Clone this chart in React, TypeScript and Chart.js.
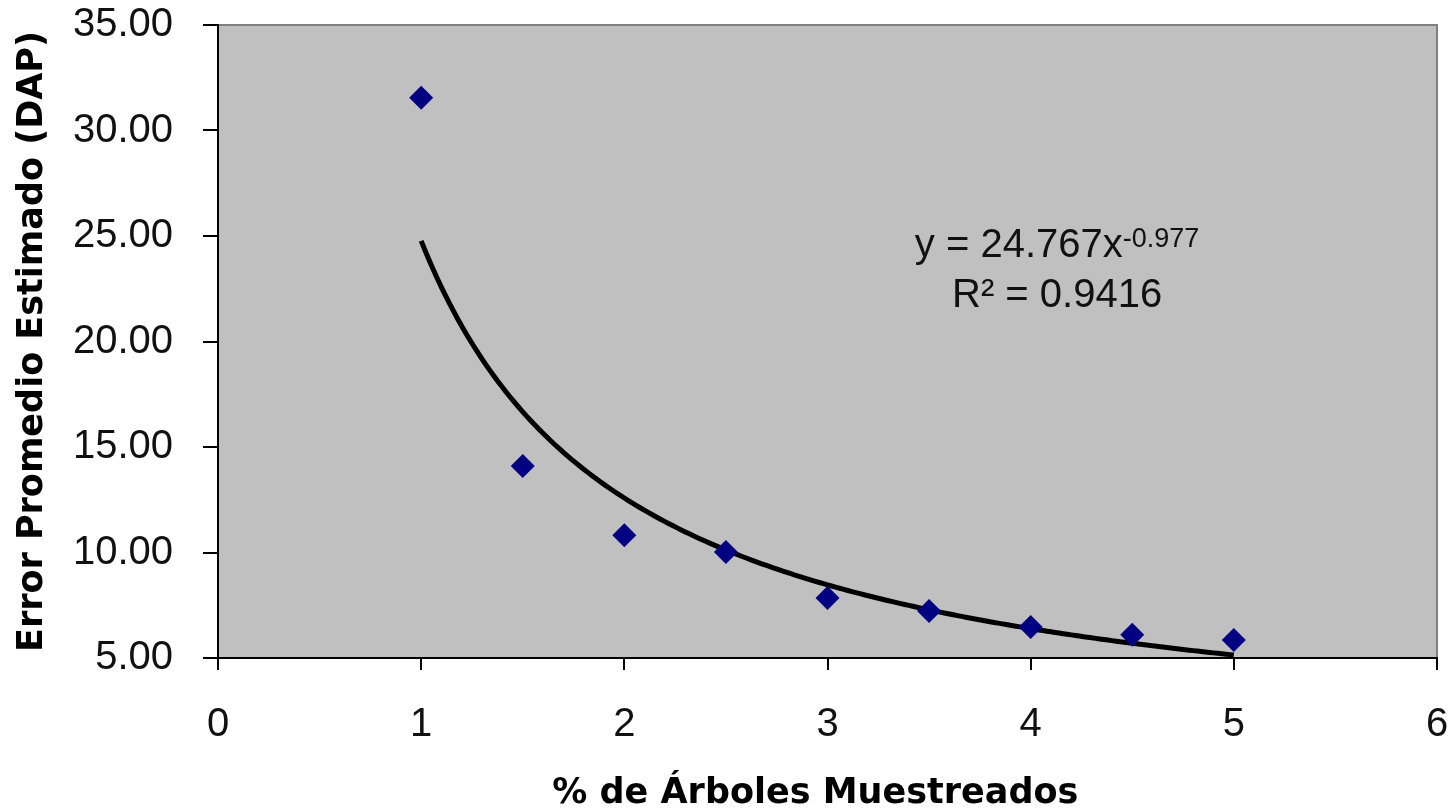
import React, { useEffect, useRef } from "react";
import { Chart, registerables } from "chart.js";

Chart.register(...registerables);

const xValues = [1, 1.5, 2, 2.5, 3, 3.5, 4, 4.5, 5];
const errorValues = [31.55, 14.1, 10.82, 10.02, 7.84, 7.23, 6.47, 6.1, 5.85];

// Power trendline coefficients as printed on the chart
const TREND_A = 24.767;
const TREND_B = -0.977;
const TREND_X_START = 1;
const TREND_X_END = 5;
const TREND_STEPS = 200;

const xTicks = [0, 1, 2, 3, 4, 5, 6];
const yTicks = [5, 10, 15, 20, 25, 30, 35];

const xTitle = "% de Árboles Muestreados";
const yTitle = "Error Promedio Estimado (DAP)";
const eqMain = "y = 24.767x";
const eqExp = "-0.977";
const eqR2 = "R² = 0.9416";
// annotation anchors in data units
const EQ_X = 4.13;
const EQ_Y1 = 24.0;
const EQ_Y2 = 21.64;
const XTITLE_X = 2.94;

const trendPoints: { x: number; y: number }[] = [];
for (let i = 0; i <= TREND_STEPS; i++) {
  const x = TREND_X_START + ((TREND_X_END - TREND_X_START) * i) / TREND_STEPS;
  trendPoints.push({ x, y: TREND_A * Math.pow(x, TREND_B) });
}

const plotBg = {
  id: "plotBg",
  beforeDraw(chart: any) {
    const { ctx, chartArea: a } = chart;
    ctx.save();
    ctx.fillStyle = "#C0C0C0";
    ctx.fillRect(a.left, a.top, a.right - a.left, a.bottom - a.top);
    ctx.strokeStyle = "#808080";
    ctx.lineWidth = 2;
    ctx.beginPath();
    ctx.moveTo(a.left, a.top);
    ctx.lineTo(a.right, a.top);
    ctx.lineTo(a.right, a.bottom);
    ctx.stroke();
    ctx.restore();
  },
};

const textLabels = {
  id: "textLabels",
  afterDraw(chart: any) {
    const { ctx, scales } = chart;
    const cx = scales.x.getPixelForValue(EQ_X);
    const y1 = scales.y.getPixelForValue(EQ_Y1);
    const y2 = scales.y.getPixelForValue(EQ_Y2);
    ctx.save();
    ctx.fillStyle = "#111";
    ctx.textBaseline = "alphabetic";
    ctx.textAlign = "left";
    ctx.font = "40px 'Liberation Sans', Arial, sans-serif";
    const wMain = ctx.measureText(eqMain).width;
    ctx.font = "27px 'Liberation Sans', Arial, sans-serif";
    const wExp = ctx.measureText(eqExp).width;
    const start = cx - (wMain + wExp) / 2;
    ctx.font = "40px 'Liberation Sans', Arial, sans-serif";
    ctx.fillText(eqMain, start, y1);
    ctx.font = "27px 'Liberation Sans', Arial, sans-serif";
    ctx.fillText(eqExp, start + wMain, y1 - 10);
    ctx.font = "40px 'Liberation Sans', Arial, sans-serif";
    ctx.textAlign = "center";
    ctx.fillText(eqR2, cx, y2);

    // x axis title
    ctx.fillStyle = "#000";
    ctx.font = "bold 35px 'DejaVu Sans', sans-serif";
    ctx.textAlign = "center";
    ctx.textBaseline = "middle";
    ctx.fillText(xTitle, scales.x.getPixelForValue(XTITLE_X), chart.height - 18);
    ctx.restore();
  },
};

export default function App() {
  const ref = useRef<HTMLCanvasElement | null>(null);
  useEffect(() => {
    if (!ref.current) return;
    const chart = new Chart(ref.current, {
      type: "scatter",
      data: {
        datasets: [
          {
            label: "Error",
            data: xValues.map((x, i) => ({ x, y: errorValues[i] })),
            pointStyle: "rectRot",
            pointRadius: 12,
            pointBackgroundColor: "#000080",
            pointBorderColor: "#000080",
            pointBorderWidth: 0,
            showLine: false,
          },
          {
            label: "Trend",
            data: trendPoints,
            showLine: true,
            borderColor: "#000000",
            borderWidth: 5,
            pointRadius: 0,
            tension: 0,
          },
        ],
      },
      options: {
        animation: false,
        responsive: true,
        maintainAspectRatio: false,
        layout: { padding: { top: 25, right: 19, left: 0, bottom: 0 } },
        plugins: {
          legend: { display: false },
          tooltip: { enabled: false },
        },
        scales: {
          x: {
            type: "linear",
            min: 0,
            max: 6,
            afterBuildTicks: (s: any) => {
              s.ticks = xTicks.map((v) => ({ value: v }));
            },
            afterFit: (s: any) => {
              s.height = 154;
              s.paddingLeft = 0;
              s.paddingRight = 0;
              s.paddingTop = 0;
              s.paddingBottom = 0;
            },
            ticks: {
              color: "#111",
              padding: 35,
              font: { family: "'Liberation Sans', Arial", size: 40, lineHeight: 1 },
            },
            grid: {
              drawOnChartArea: false,
              drawTicks: true,
              tickLength: 12,
              color: "#000",
              lineWidth: 2,
            },
            border: { display: true, color: "#000", width: 2 },
            title: { display: false },
          },
          y: {
            type: "linear",
            min: 5,
            max: 35,
            afterBuildTicks: (s: any) => {
              s.ticks = yTicks.map((v) => ({ value: v }));
            },
            afterFit: (s: any) => {
              s.width = 218;
              s.paddingLeft = 0;
              s.paddingRight = 0;
              s.paddingTop = 0;
              s.paddingBottom = 0;
            },
            ticks: {
              color: "#111",
              padding: 30,
              font: { family: "'Liberation Sans', Arial", size: 40, lineHeight: 1 },
              callback: (v: any) => Number(v).toFixed(2),
            },
            grid: {
              drawOnChartArea: false,
              drawTicks: true,
              tickLength: 15,
              color: "#000",
              lineWidth: 2,
            },
            border: { display: true, color: "#000", width: 2 },
            title: {
              display: true,
              text: yTitle,
              color: "#000",
              padding: { top: 15, bottom: 0 },
              font: { family: "'DejaVu Sans'", size: 35, weight: "bold", lineHeight: 1 },
            },
          },
        },
      },
      plugins: [plotBg, textLabels],
    });
    return () => chart.destroy();
  }, []);

  return (
    <div
      style={{
        position: "fixed",
        left: 0,
        top: 0,
        width: 1456,
        height: 812,
        background: "#fff",
      }}
    >
      <canvas ref={ref} />
    </div>
  );
}
